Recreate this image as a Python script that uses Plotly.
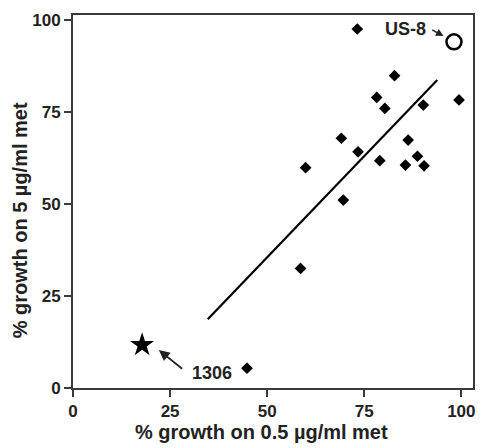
import plotly.graph_objects as go

# Diamonds: strains
x_strains = [73.2, 82.8, 78.2, 80.3, 90.2, 99.4, 69.1, 73.4, 86.3, 59.9,
             79.0, 85.6, 88.7, 90.4, 69.6, 58.6, 44.8]
y_strains = [97.6, 84.9, 79.0, 76.0, 76.9, 78.3, 67.9, 64.2, 67.4, 59.9,
             61.8, 60.6, 63.0, 60.4, 51.1, 32.5, 5.4]
# Special strains
x_1306 = [17.8]
y_1306 = [11.7]
x_us8 = [98.1]
y_us8 = [94.1]
# Regression line endpoints
x_fit = [34.7, 93.8]
y_fit = [18.7, 83.7]

tick_vals = [0, 25, 50, 75, 100]
tick_text = ["0", "25", "50", "75", "100"]

FONT = "Liberation Sans, Arial, sans-serif"
TXT = "#222"

fig = go.Figure()
fig.add_trace(go.Scatter(x=x_fit, y=y_fit, mode="lines",
                         line=dict(color="black", width=2.2), hoverinfo="skip"))
fig.add_trace(go.Scatter(x=x_strains, y=y_strains, mode="markers",
                         marker=dict(symbol="diamond", size=9, color="black")))
fig.add_trace(go.Scatter(x=x_1306, y=y_1306, mode="markers",
                         marker=dict(symbol="star", size=18, color="black")))
fig.add_trace(go.Scatter(x=x_us8, y=y_us8, mode="markers",
                         marker=dict(symbol="circle-open", size=15, color="black",
                                     line=dict(width=2.5, color="black"))))

axis_common = dict(
    showline=True, linecolor="#3a3a3a", linewidth=2, mirror=True,
    ticks="outside", ticklen=7, tickwidth=2, tickcolor="#3a3a3a",
    showgrid=False, zeroline=False, automargin=False,
    tickvals=tick_vals, ticktext=["<b>%s</b>" % t for t in tick_text],
    tickfont=dict(family=FONT, size=17, color=TXT),
)

fig.update_layout(
    width=483, height=448,
    margin=dict(l=73, r=10, t=15, b=60),
    paper_bgcolor="white", plot_bgcolor="white",
    showlegend=False,
    xaxis=dict(range=[0, 103], ticklabelstandoff=0, **axis_common),
    yaxis=dict(range=[0, 101.4], **axis_common),
    font=dict(family=FONT, color=TXT),
)

fig.add_annotation(text="<b>% growth on 0.5 µg/ml met</b>", xref="paper", yref="paper",
                   x=0.47, y=-0.118, yanchor="middle", xanchor="center", showarrow=False,
                   font=dict(family=FONT, size=20, color=TXT))
fig.add_annotation(text="<b>% growth on 5 µg/ml met</b>", xref="paper", yref="paper",
                   x=-0.132, y=0.45, textangle=-90, xanchor="center", yanchor="middle",
                   showarrow=False, font=dict(family=FONT, size=20, color=TXT))

# Label annotations with arrows
fig.add_annotation(x=22.1, y=10.3, ax=28.5, ay=4.9, axref="x", ayref="y",
                   xref="x", yref="y", text="", showarrow=True,
                   arrowhead=2, arrowsize=1.2, arrowwidth=1.8, arrowcolor=TXT)
fig.add_annotation(x=35.9, y=4.1, xref="x", yref="y", text="<b>1306</b>",
                   showarrow=False, font=dict(family=FONT, size=18, color=TXT))
fig.add_annotation(x=95.4, y=95.7, ax=92.1, ay=97.6, axref="x", ayref="y",
                   xref="x", yref="y", text="", showarrow=True,
                   arrowhead=2, arrowsize=1.0, arrowwidth=1.5, arrowcolor=TXT)
fig.add_annotation(x=85.6, y=97.6, xref="x", yref="y", text="<b>US-8</b>",
                   showarrow=False, font=dict(family=FONT, size=18, color=TXT))

fig.write_html("out.html", config={"displayModeBar": False},
               post_script="document.body.style.margin='0';")
